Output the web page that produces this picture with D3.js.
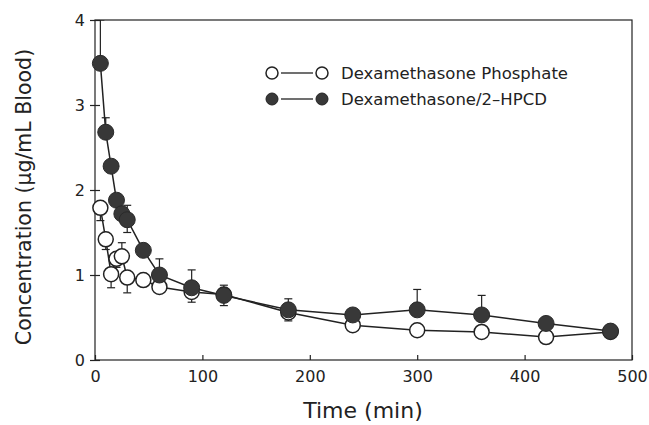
<!DOCTYPE html>
<html>
<head>
<meta charset="utf-8">
<script src="https://cdn.jsdelivr.net/npm/d3@7"></script>
<style>
  html, body { margin: 0; padding: 0; background: #fff; }
  svg { display: block; }
  text { font-family: "DejaVu Sans", sans-serif; fill: #222; }
</style>
</head>
<body>
<svg id="chart" width="649" height="425"></svg>
<script>
// ---- data ----
const times = [5, 10, 15, 20, 25, 30, 45, 60, 90, 120, 180, 240, 300, 360, 420, 480];
const phosphate = [1.79, 1.42, 1.01, 1.19, 1.22, 0.97, 0.94, 0.86, 0.80, 0.77, 0.56, 0.41, 0.35, 0.33, 0.27, 0.33];
const phosphateErrLow = [0.15, 0.12, 0.16, 0.10, 0.0, 0.18, 0.0, 0.0, 0.12, 0.0, 0.0, 0.0, 0.0, 0.05, 0.0, 0.0];
const phosphateErrHigh = [0.0, 0.0, 0.0, 0.0, 0.16, 0.0, 0.0, 0.0, 0.0, 0.0, 0.0, 0.0, 0.05, 0.05, 0.0, 0.0];
const hpcd = [3.49, 2.68, 2.28, 1.88, 1.72, 1.65, 1.29, 1.00, 0.85, 0.76, 0.59, 0.53, 0.59, 0.53, 0.43, 0.34];
const hpcdErrHigh = [0.6, 0.17, 0.0, 0.0, 0.0, 0.17, 0.0, 0.19, 0.21, 0.12, 0.13, 0.0, 0.24, 0.23, 0.0, 0.0];
const hpcdErrLow = [0.0, 0.0, 0.0, 0.0, 0.0, 0.15, 0.0, 0.0, 0.0, 0.12, 0.13, 0.0, 0.0, 0.0, 0.0, 0.0];
const xTicks = [0, 100, 200, 300, 400, 500];
const yTicks = [0, 1, 2, 3, 4];
const seriesNames = ["Dexamethasone Phosphate", "Dexamethasone/2\u2013HPCD"];

// ---- layout ----
const svg = d3.select("#chart");
const margin = {left: 95, top: 20, right: 17, bottom: 65};
const W = 649, H = 425;
const x = d3.scaleLinear().domain([0, 500]).range([margin.left, W - margin.right]);
const y = d3.scaleLinear().domain([0, 4]).range([H - margin.bottom, margin.top]);
const ink = "#222";

// frame
svg.append("rect")
  .attr("x", x(0)).attr("y", y(4))
  .attr("width", x(500) - x(0)).attr("height", y(0) - y(4))
  .attr("fill", "none").attr("stroke", ink).attr("stroke-width", 1.2);

// x axis
const xAxis = svg.append("g").attr("transform", `translate(0,${y(0)})`)
  .call(d3.axisBottom(x).tickValues(xTicks).tickSize(-5).tickPadding(11).tickFormat(d3.format("d")));
xAxis.select(".domain").remove();
xAxis.selectAll("line").attr("stroke", ink).attr("stroke-width", 1.2);
xAxis.selectAll("text").style("font-size", "16px").style("font-family", "DejaVu Sans, sans-serif").attr("fill", ink);

// y axis
const yAxis = svg.append("g").attr("transform", `translate(${x(0)},0)`)
  .call(d3.axisLeft(y).tickValues(yTicks).tickSize(5).tickPadding(5).tickFormat(d3.format("d")));
yAxis.select(".domain").remove();
yAxis.selectAll("line").attr("x2", 5).attr("x1", -5).attr("stroke", ink).attr("stroke-width", 1.2);
yAxis.selectAll("text").style("font-size", "16px").style("font-family", "DejaVu Sans, sans-serif").attr("fill", ink);

// titles
svg.append("text").attr("x", 363).attr("y", 418)
  .attr("text-anchor", "middle").style("font-size", "22px").text("Time (min)");
svg.append("text").attr("transform", `translate(31,${(y(0) + y(4)) / 2 + 7}) rotate(-90)`)
  .attr("text-anchor", "middle").style("font-size", "20.5px").text("Concentration (\u03bcg/mL Blood)");

const plot = svg.append("g");
svg.append("clipPath").attr("id", "clip").append("rect")
  .attr("x", x(0)).attr("y", y(4)).attr("width", x(500) - x(0)).attr("height", y(0) - y(4));

function errorBars(vals, errHigh, errLow) {
  const g = plot.append("g").attr("stroke", ink).attr("stroke-width", 1.2).attr("clip-path", "url(#clip)");
  times.forEach((t, i) => {
    const cx = x(t);
    if (errHigh[i] > 0) {
      const top = Math.min(vals[i] + errHigh[i], 4);
      g.append("line").attr("x1", cx).attr("x2", cx).attr("y1", y(vals[i])).attr("y2", y(top));
      g.append("line").attr("x1", cx - 4).attr("x2", cx + 4).attr("y1", y(top)).attr("y2", y(top));
    }
    if (errLow[i] > 0) {
      const bot = vals[i] - errLow[i];
      g.append("line").attr("x1", cx).attr("x2", cx).attr("y1", y(vals[i])).attr("y2", y(bot));
      g.append("line").attr("x1", cx - 4).attr("x2", cx + 4).attr("y1", y(bot)).attr("y2", y(bot));
    }
  });
}

const line = d3.line().x((d, i) => x(times[i])).y(d => y(d));

// phosphate series (open)
errorBars(phosphate, phosphateErrHigh, phosphateErrLow);
plot.append("path").datum(phosphate).attr("d", line)
  .attr("fill", "none").attr("stroke", ink).attr("stroke-width", 1.5);
// hpcd series error bars + line
errorBars(hpcd, hpcdErrHigh, hpcdErrLow);
plot.append("path").datum(hpcd).attr("d", line)
  .attr("fill", "none").attr("stroke", ink).attr("stroke-width", 1.5);

plot.append("g").selectAll("circle").data(phosphate).join("circle")
  .attr("cx", (d, i) => x(times[i])).attr("cy", d => y(d)).attr("r", 7.5)
  .attr("fill", "#fff").attr("stroke", ink).attr("stroke-width", 1.5);
plot.append("g").selectAll("circle").data(hpcd).join("circle")
  .attr("cx", (d, i) => x(times[i])).attr("cy", d => y(d)).attr("r", 8)
  .attr("fill", "#383838").attr("stroke", "#2a2a2a").attr("stroke-width", 1);

// legend
const leg = svg.append("g");
[0, 1].forEach(k => {
  const ly = 73 + k * 26;
  leg.append("line").attr("x1", 281).attr("x2", 313).attr("y1", ly).attr("y2", ly)
    .attr("stroke", ink).attr("stroke-width", 1.3);
  [272, 322].forEach(cx => {
    leg.append("circle").attr("cx", cx).attr("cy", ly).attr("r", 6)
      .attr("fill", k === 0 ? "#fff" : "#383838").attr("stroke", ink).attr("stroke-width", k === 0 ? 1.5 : 1);
  });
  leg.append("text").attr("x", 341).attr("y", ly + 5.5).style("font-size", "16.5px").text(seriesNames[k]);
});
</script>
</body>
</html>
